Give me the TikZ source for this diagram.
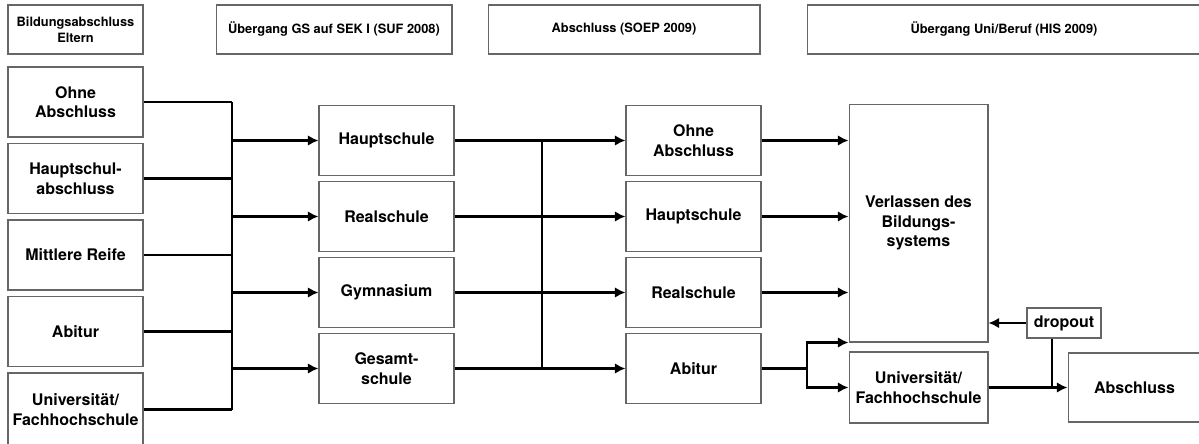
\documentclass[tikz,border=0pt]{standalone}
\usepackage{fontspec}
\setmainfont{TeX Gyre Heros}
\usetikzlibrary{arrows.meta, positioning}

\begin{document}
\begin{tikzpicture}[
            x=0.02cm, y=-0.02cm,
            box/.style={draw=black!60, line width=0.6pt, align=center, inner sep=1pt,
                font=\fontsize{9.1}{11.2}\selectfont\bfseries,
                minimum width=2.7cm, minimum height=1.4cm},
            kopf/.style={box, font=\fontsize{7.3}{9.2}\selectfont\bfseries, minimum height=0.98cm},
            linie/.style={line width=1.25pt},
            pfeil/.style={linie, -{Latex[length=6pt, width=6pt]}},
        ]
            \useasboundingbox (0,0) rectangle (1199,443);

            % Kopfzeile
            \node[kopf] (hEltern) at (75.5,29.5) {Bildungsabschluss\\Eltern};
            \node[kopf, minimum width=4.72cm] (hSek) at (334,29.5) {Übergang GS auf SEK I (SUF 2008)};
            \node[kopf, minimum width=5.44cm] (hSoep) at (624,29.5) {Abschluss (SOEP 2009)};
            \node[kopf, minimum width=7.88cm] (hHis) at (1004,29.5) {Übergang Uni/Beruf (HIS 2009)};

            % Eltern
            \node[box] (e1) at (75.5,102) {Ohne\\Abschluss};
            \node[box] (e2) at (75.5,178.5) {Hauptschul-\\abschluss};
            \node[box] (e3) at (75.5,255) {Mittlere Reife};
            \node[box] (e4) at (75.5,331.5) {Abitur};
            \node[box, minimum height=1.46cm] (e5) at (75.5,409.5) {Universität/\\Fachhochschule};

            % Sek I
            \node[box] (s1) at (386.5,140.5) {Hauptschule};
            \node[box] (s2) at (386.5,216.5) {Realschule};
            \node[box] (s3) at (386.5,292.5) {Gymnasium};
            \node[box] (s4) at (386.5,368.5) {Gesamt-\\schule};

            % Abschluss SOEP
            \node[box] (a1) at (693.5,140.5) {Ohne\\Abschluss};
            \node[box] (a2) at (693.5,216.5) {Hauptschule};
            \node[box] (a3) at (693.5,292.5) {Realschule};
            \node[box] (a4) at (693.5,368.5) {Abitur};

            % HIS
            \node[box, minimum width=2.78cm, minimum height=4.76cm] (verlassen) at (918.5,223) {Verlassen des\\Bildungs-\\systems};
            \node[box, minimum width=2.78cm, minimum height=1.42cm] (uni) at (918.5,387.5) {Universität/\\Fachhochschule};
            \node[box, minimum width=1.48cm, minimum height=0.6cm] (dropout) at (1064,323) {dropout};
            \node[box, minimum width=2.66cm, minimum height=1.38cm] (abschluss) at (1134.5,387.5) {Abschluss};

            \coordinate (busA) at (232,0);
            \coordinate (busB) at (542,0);
            \coordinate (gabel) at (807,0);
            \coordinate (fall) at ([xshift=-0.24cm]dropout.south);

            % Eltern -> Sek I
            \draw[linie] (e1.east) -- (e1.east -| busA);
            \draw[linie] (e2.east) -- (e2.east -| busA);
            \draw[linie] (e3.east) -- (e3.east -| busA);
            \draw[linie] (e4.east) -- (e4.east -| busA);
            \draw[linie] (e5.east) -- (e5.east -| busA);
            \draw[linie] (e1.east -| busA) -- (e5.east -| busA);
            \draw[pfeil] (s1.west -| busA) -- (s1.west);
            \draw[pfeil] (s2.west -| busA) -- (s2.west);
            \draw[pfeil] (s3.west -| busA) -- (s3.west);
            \draw[pfeil] (s4.west -| busA) -- (s4.west);

            % Sek I -> Abschluss
            \draw[pfeil] (s1.east) -- (a1.west);
            \draw[pfeil] (s2.east) -- (a2.west);
            \draw[pfeil] (s3.east) -- (a3.west);
            \draw[pfeil] (s4.east) -- (a4.west);
            \draw[linie] (s1.east -| busB) -- (s4.east -| busB);

            % Abschluss -> HIS
            \draw[pfeil] (a1.east) -- (a1.east -| verlassen.west);
            \draw[pfeil] (a2.east) -- (a2.east -| verlassen.west);
            \draw[pfeil] (a3.east) -- (a3.east -| verlassen.west);
            \draw[linie] (a4.east) -- (a4.east -| gabel);
            \draw[pfeil] (a4.east -| gabel) |- (verlassen.south west);
            \draw[pfeil] (a4.east -| gabel) |- (uni.west);

            \draw[pfeil] (dropout.west) -- (dropout.west -| verlassen.east);
            \draw[pfeil] (uni.east) -- (abschluss.west);
            \draw[linie] (fall) -- (fall |- uni.east);
        \end{tikzpicture}
\end{document}
